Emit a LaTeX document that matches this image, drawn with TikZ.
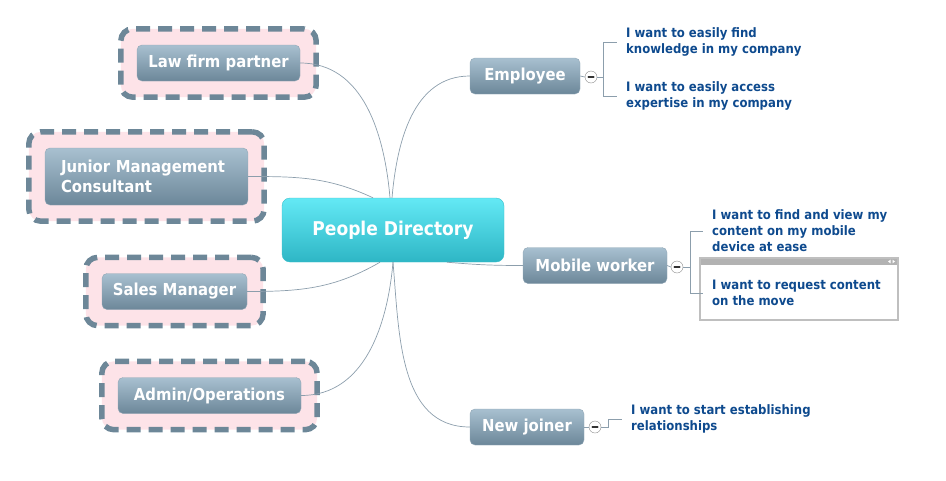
\documentclass[tikz,border=0pt]{standalone}
\usepackage{fontspec}
\newfontfamily\mapfont{DejaVu Sans Condensed}
\usetikzlibrary{positioning,fit,backgrounds}
\definecolor{hubtop}{HTML}{63E9F5}
\definecolor{hubbot}{HTML}{2EB6C5}
\definecolor{hubline}{HTML}{3CBFCB}
\definecolor{topictop}{HTML}{A8C0D0}
\definecolor{topicbot}{HTML}{6C8799}
\definecolor{topicline}{HTML}{91A7B6}
\definecolor{dashline}{HTML}{6D8798}
\definecolor{grpfill}{HTML}{FDE3E8}
\definecolor{linkcol}{HTML}{8C9EAC}
\definecolor{leafblue}{HTML}{0E4A8E}
\tikzset{
  hub/.style={rectangle, rounded corners=8pt, draw=hubline, top color=hubtop,
              bottom color=hubbot, text=white, font=\mapfont\bfseries\fontsize{19}{22}\selectfont,
              minimum width=222pt, minimum height=64pt},
  topic/.style={rectangle, rounded corners=5pt, draw=topicline, top color=topictop,
                bottom color=topicbot, text=white, font=\mapfont\bfseries\fontsize{16.5}{19.5}\selectfont,
                minimum height=36pt, inner sep=0pt},
  grp/.style={rectangle, rounded corners=12pt, draw=dashline, fill=grpfill,
              line width=5.5pt, dash pattern=on 14pt off 8pt, inner sep=16pt},
  leaf/.style={anchor=west, align=left, text=leafblue,
               font=\mapfont\bfseries\fontsize{13}{16}\selectfont, inner xsep=9pt, inner ysep=0pt},
  toggle/.style={circle, draw=black!45, fill=white, minimum size=12pt, inner sep=0pt,
                 path picture={\draw[black!80, line width=1.8pt, line cap=round]
                   ([xshift=-2.6pt]path picture bounding box.center) -- ([xshift=2.6pt]path picture bounding box.center);}},
  editor/.style={rectangle, draw=black!25, line width=2pt, fill=white,
                 minimum width=198pt, minimum height=62pt,
                 path picture={\fill[black!30] (path picture bounding box.north west) rectangle ([yshift=-7pt]path picture bounding box.north east);
                   \fill[white] ([xshift=-10pt,yshift=-3.5pt]path picture bounding box.north east) -- ++(2.5,1.8) -- ++(0,-3.6) -- cycle;
                   \fill[white] ([xshift=-3pt,yshift=-3.5pt]path picture bounding box.north east) -- ++(-2.5,1.8) -- ++(0,-3.6) -- cycle;}},
  link/.style={draw=linkcol, line width=0.7pt},
}
\begin{document}
\begin{tikzpicture}[x=1pt,y=1pt]
\useasboundingbox (0,0) rectangle (946,-480);
% central topic
\node[hub] (hub) at (393,-230) {People Directory};
% roles
\node[topic, minimum width=163pt] (law) at (218.5,-63) {Law firm partner};
\node[topic, minimum width=203pt, minimum height=57pt, align=left, text width=171pt] (junior) at (146.5,-176.5)
  {Junior Management\\Consultant};
\node[topic, minimum width=145pt] (sales) at (174.5,-291.5) {Sales Manager};
\node[topic, minimum width=183pt] (admin) at (209.5,-395.5) {Admin/Operations};
\begin{scope}[on background layer]
  \node[grp, fit=(law)] (lawgrp) {};
  \node[grp, fit=(junior)] (juniorgrp) {};
  \node[grp, fit=(sales)] (salesgrp) {};
  \node[grp, fit=(admin)] (admingrp) {};
\end{scope}
% user groups
\node[topic, minimum width=110pt] (employee) at (525,-76) {Employee};
\node[topic, minimum width=144pt] (mobile) at (595,-265.5) {Mobile worker};
\node[topic, minimum width=114pt] (joiner) at (527,-427) {New joiner};
\node[toggle] (empT) at (591,-77) {};
\node[toggle] (mobT) at (677,-267) {};
\node[toggle] (joinT) at (595,-427) {};
% needs
\node[leaf] (emp1) at (617,-42) {I want to easily find\\knowledge in my company};
\node[leaf] (emp2) at (617,-96) {I want to easily access\\expertise in my company};
\node[editor] (edbox) at (799,-289) {};
\node[leaf] (mob1) at (703,-231) {I want to find and view my\\content on my mobile\\device at ease};
\node[leaf] (mob2) at (703,-293) {I want to request content\\on the move};
\node[leaf] (join1) at (622,-419) {I want to start establishing\\relationships};
% branches
\draw[link] (law.east) to[out=0,in=95] ([xshift=-3pt]hub.north);
\draw[link] (junior.east) to[out=0,in=155] ([xshift=-20pt]hub.north);
\draw[link] (employee.west) to[out=180,in=85] ([xshift=-1pt]hub.north);
\draw[link] (sales.east) to[out=0,in=-150] ([xshift=-13pt]hub.south);
\draw[link] (admin.east) to[out=0,in=-95] (hub.south);
\draw[link] (joiner.west) to[out=180,in=-85] (hub.south);
\draw[link] ([xshift=54pt]hub.south) to[out=-5,in=180] (mobile.west);
\draw[link] (employee.east) -- (empT.west);
\draw[link] (empT.east) -- ++(6,0) |- (emp1.west);
\draw[link] (empT.east) ++(6,0) |- (emp2.west);
\draw[link] (mobile.east) -- (mobT.west);
\draw[link] (mobT.east) -- ++(7,0) |- (mob1.west);
\draw[link] (mobT.east) ++(7,0) |- (mob2.west);
\draw[link] (joiner.east) -- (joinT.west);
\draw[link] (joinT.east) -- ++(7,0) |- (join1.west);
\end{tikzpicture}
\end{document}
